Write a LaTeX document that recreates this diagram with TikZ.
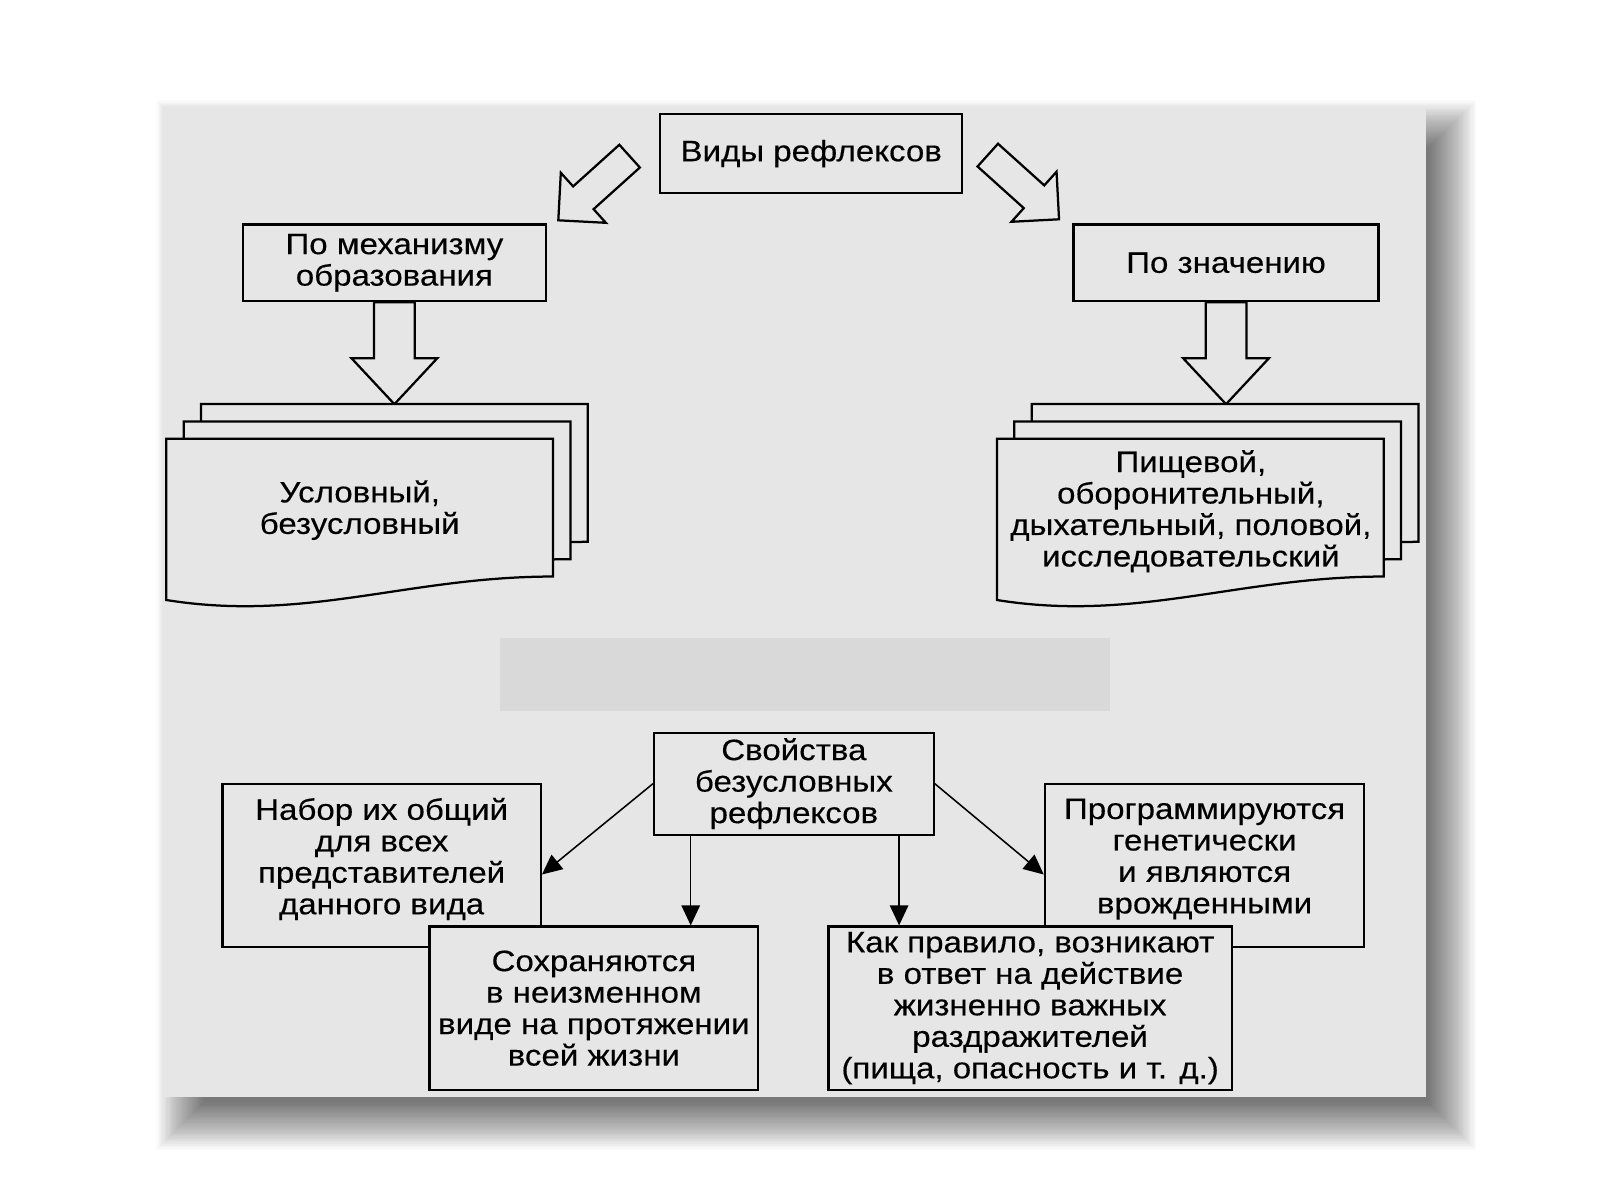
\documentclass[tikz,border=0pt]{standalone}
\usepackage{fontspec}
\setmainfont{Liberation Sans}[FakeStretch=1.12,FakeBold=0.3]
\usetikzlibrary{arrows.meta,calc}
\definecolor{panel}{RGB}{230,230,230}
\definecolor{blank}{RGB}{217,217,217}
\newdimen\pxu \pxu=0.01275cm
\tikzset{
  box/.style={draw,line width=0.8pt,fill=panel,inner sep=0pt,align=center},
  boxsize/.style 2 args={minimum width=#1*\pxu,minimum height=#2*\pxu},
  link/.style={-{Triangle[length=2.5mm,width=2.3mm]},line width=0.55pt},
  hollow/.style={draw,line width=0.8pt,fill=panel,line join=miter},
  doc/.style={draw,line width=0.8pt,fill=panel}
}
\begin{document}
\begin{tikzpicture}[x=0.01275cm,y=-0.01275cm,font=\fontsize{10.5}{11.2}\selectfont]
\useasboundingbox (0,0) rectangle (1568,1176);
\fill[white] (0,0) rectangle (1568,1176);
% shadow and panel
\foreach \d in {0,...,39}
  \fill[black,opacity=0.015] (200-1.2*\d,145-1.2*\d) rectangle (1400+1.2*\d,1080+1.2*\d);
\fill[panel] (160,105) rectangle (1397,1075);
\fill[blank] (490,625) rectangle (1088,697);
% upper part
\node[box,boxsize={296}{77}] (kinds) at (795,150.5) {Виды рефлексов};
\node[box,boxsize={297}{75}] (mech) at (386.5,257.5) {По механизму\\образования};
\node[box,boxsize={299}{75}] (value) at (1201.5,257.5) {По значению};
\coordinate (lt) at (617,153);
\coordinate (rt) at (968,152);
\foreach \at/\ang/\len/\shaft/\head/\tip in {lt/222/94/15/33/33,rt/-42/94/15/33/33,
    mech.south/-90/100/20/42/45,value.south/-90/100/20/42/45}
  \draw[hollow,shift={(\at)},rotate=\ang] (0,-\shaft) -- (\len-\tip,-\shaft) -- (\len-\tip,-\head)
    -- (\len,0) -- (\len-\tip,\head) -- (\len-\tip,\shaft) -- (0,\shaft) -- cycle;
\foreach \dx in {0,814}
  \foreach \d in {2,1,0}
    \draw[doc,shift={(\dx+17*\d,-17*\d)}] (163,430) -- (542,430) -- (542,565)
      .. controls (400,565) and (300,610) .. (163,588) -- cycle;
\node[align=center] (mechlist) at (352.5,500) {Условный,\\безусловный};
\node[align=center] (valuelist) at (1167,501) {Пищевой,\\оборонительный,\\дыхательный, половой,\\исследовательский};
% lower part
\node[box,boxsize={274}{100}] (props) at (778,768) {Свойства\\безусловных\\рефлексов};
\node[box,boxsize={312}{160},text depth=6.6pt] (common) at (374,848) {Набор их общий\\для всех\\представителей\\данного вида};
\node[box,boxsize={313}{160},text depth=6.6pt] (genetic) at (1180.5,848) {Программируются\\генетически\\и являются\\врожденными};
\node[box,boxsize={322}{160}] (keep) at (582,988) {Сохраняются\\в неизменном\\виде на протяжении\\всей жизни};
\node[box,boxsize={395}{160}] (stimuli) at (1009.5,988) {Как правило, возникают\\в ответ на действие\\жизненно важных\\раздражителей\\(пища, опасность и т. д.)};
\draw[link] (props.west) -- ($(common.east)+(0,9)$);
\draw[link] (props.east) -- ($(genetic.west)+(0,9)$);
\draw[link] (props.south west) ++(37,0) coordinate (p1) -- (p1 |- keep.north);
\draw[link] (props.south east) ++(-35,0) coordinate (p2) -- (p2 |- stimuli.north);
\end{tikzpicture}
\end{document}
